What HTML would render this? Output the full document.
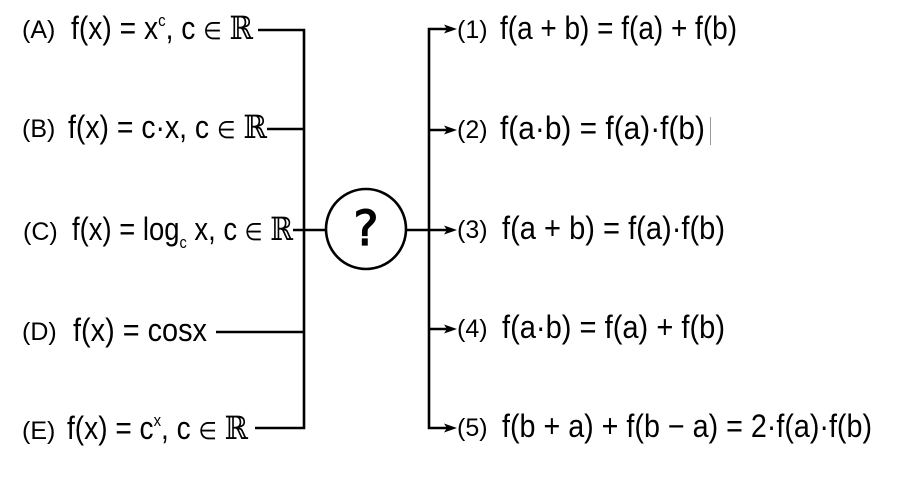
<!DOCTYPE html>
<html>
<head>
<meta charset="utf-8">
<style>
  html, body { margin: 0; padding: 0; background: #fff; }
  svg { display: block; }
  .lbl { font-family: "Liberation Sans", "DejaVu Sans", sans-serif; font-size: 25px; fill: #000; }
  .m { font-family: "Liberation Sans", "DejaVu Sans", sans-serif; font-size: 32px; fill: #000; }
  .r { font-family: "DejaVu Serif", "Liberation Serif", serif; }
  .e { font-family: "DejaVu Sans", sans-serif; font-size: 24px; }
  .s { font-size: 17px; }
</style>
</head>
<body>
<svg width="900" height="483" viewBox="0 0 900 483" xmlns="http://www.w3.org/2000/svg">
  <rect width="900" height="483" fill="#fff"/>

  <!-- connectors -->
  <g stroke="#000" stroke-width="2.6" fill="none" stroke-linecap="butt">
    <path d="M258 30 H304 V428 H255"/>
    <path d="M267 129 H304"/>
    <path d="M216 332 H304"/>
    <path d="M293 230 H326"/>
    <circle cx="366" cy="229" r="40"/>
    <path d="M406 230 H448"/>
    <path d="M448 29 H429 V428 H448"/>
    <path d="M429 130 H448"/>
    <path d="M429 329 H448"/>
  </g>
  <!-- arrowheads -->
  <g fill="#000">
    <path d="M457 29 L444 24.5 L447 29 L444 33.5 Z"/>
    <path d="M457 130 L444 125.5 L447 130 L444 134.5 Z"/>
    <path d="M457 230 L444 225.5 L447 230 L444 234.5 Z"/>
    <path d="M457 329 L444 324.5 L447 329 L444 333.5 Z"/>
    <path d="M457 428 L444 423.5 L447 428 L444 432.5 Z"/>
  </g>

  <!-- question mark -->
  <text x="366" y="245" text-anchor="middle" font-family="DejaVu Sans, Liberation Sans, sans-serif" font-size="48" fill="#000" stroke="#000" stroke-width="1.2">?</text>

  <!-- left labels -->
  <text class="lbl" x="22" y="38">(A)</text>
  <text class="m" x="71" y="39" textLength="182" lengthAdjust="spacingAndGlyphs">f(x) = x<tspan class="s" dy="-13">c</tspan><tspan dy="13">, c </tspan><tspan class="e">∈</tspan> <tspan class="r">ℝ</tspan></text>

  <text class="lbl" x="22" y="137">(B)</text>
  <text class="m" x="68" y="138" textLength="199" lengthAdjust="spacingAndGlyphs">f(x) = c·x, c <tspan class="e">∈</tspan> <tspan class="r">ℝ</tspan></text>

  <text class="lbl" x="23" y="240">(C)</text>
  <text class="m" x="72" y="240" textLength="221" lengthAdjust="spacingAndGlyphs">f(x) = log<tspan class="s" dy="8">c</tspan><tspan dy="-8"> x, c </tspan><tspan class="e">∈</tspan> <tspan class="r">ℝ</tspan></text>

  <text class="lbl" x="22" y="340">(D)</text>
  <text class="m" x="73" y="341" textLength="134" lengthAdjust="spacingAndGlyphs">f(x) = cosx</text>

  <text class="lbl" x="22" y="439">(E)</text>
  <text class="m" x="67" y="439" textLength="181" lengthAdjust="spacingAndGlyphs">f(x) = c<tspan class="s" dy="-13">x</tspan><tspan dy="13">, c </tspan><tspan class="e">∈</tspan> <tspan class="r">ℝ</tspan></text>

  <!-- right labels -->
  <text class="lbl" x="457" y="38">(1)</text>
  <text class="m" x="500" y="39" textLength="237" lengthAdjust="spacingAndGlyphs">f(a + b) = f(a) + f(b)</text>

  <text class="lbl" x="457" y="138">(2)</text>
  <text class="m" x="500" y="139" textLength="205" lengthAdjust="spacingAndGlyphs">f(a·b) = f(a)·f(b)</text>
  <line x1="710.5" y1="117" x2="710.5" y2="145" stroke="#999" stroke-width="1"/>

  <text class="lbl" x="457" y="238">(3)</text>
  <text class="m" x="502" y="239" textLength="223" lengthAdjust="spacingAndGlyphs">f(a + b) = f(a)·f(b)</text>

  <text class="lbl" x="457" y="337">(4)</text>
  <text class="m" x="502" y="338" textLength="223" lengthAdjust="spacingAndGlyphs">f(a·b) = f(a) + f(b)</text>

  <text class="lbl" x="457" y="436">(5)</text>
  <text class="m" x="502" y="437" textLength="370" lengthAdjust="spacingAndGlyphs">f(b + a) + f(b − a) = 2·f(a)·f(b)</text>
</svg>
</body>
</html>
